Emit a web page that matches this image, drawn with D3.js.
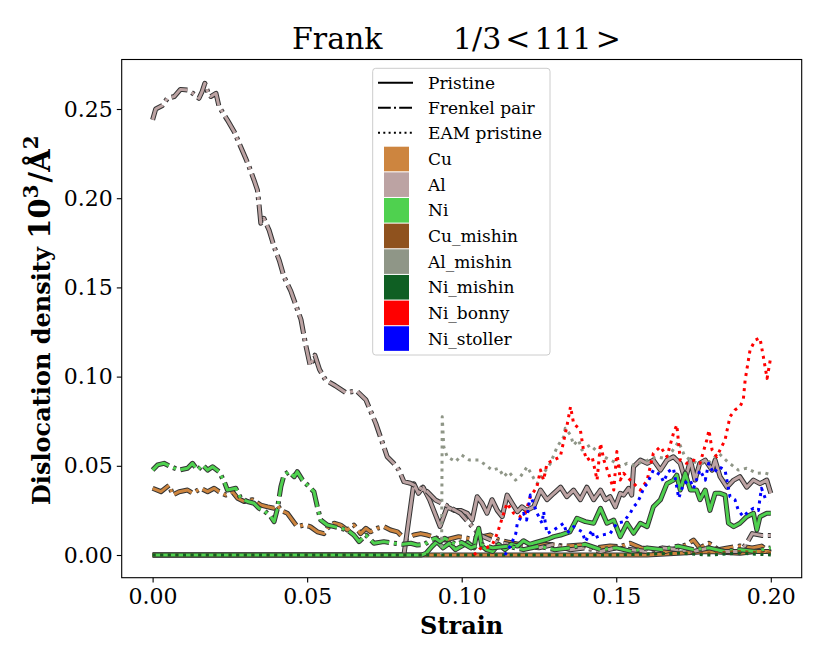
<!DOCTYPE html>
<html><head><meta charset="utf-8">
<script src="https://cdn.jsdelivr.net/npm/d3@7"></script>
<style>body{margin:0;background:#fff}svg{display:block}text{font-family:"DejaVu Serif",serif}</style>
</head><body>
<svg id="chart" width="830" height="664"></svg>
<script>
// ---------- DATA ----------
const xTicks = [0.00, 0.05, 0.10, 0.15, 0.20];
const yTicks = [0.00, 0.05, 0.10, 0.15, 0.20, 0.25];
const titleWord = "Frank";
const titleMath = ["1/3", "<", "111", ">"];

// Cu pristine (solid)
const cuP_x = [0, 0.04, 0.08, 0.12, 0.16, 0.17, 0.18, 0.19, 0.195, 0.2];
const cuP_y = [0, 0, 0, 0, 0, 0.001, 0.002, 0.001, 0.002, 0.002];
// Cu Frenkel pair (dash-dot)
const cuFP_x = [0, 0.0027, 0.0054, 0.0065, 0.0086, 0.0113, 0.013, 0.0156, 0.0178, 0.0199, 0.0215, 0.0237, 0.0258, 0.0275, 0.0296, 0.0323, 0.035, 0.0372, 0.0393, 0.0404, 0.0415, 0.0436, 0.0452, 0.0468, 0.049, 0.051, 0.0533, 0.0554, 0.0565, 0.0587, 0.0608, 0.063, 0.0651, 0.0673, 0.069, 0.0705, 0.0727, 0.0748, 0.077, 0.0792, 0.0808, 0.0824, 0.0845, 0.0867, 0.0889, 0.092, 0.0948, 0.099, 0.103, 0.1093, 0.112, 0.1168, 0.122, 0.128, 0.133, 0.1384, 0.143, 0.148, 0.1513, 0.1545, 0.158, 0.162, 0.166, 0.17, 0.173, 0.175, 0.177, 0.18, 0.183, 0.186, 0.19, 0.194, 0.197, 0.2];
const cuFP_y = [0.0374, 0.0355, 0.0392, 0.0336, 0.0355, 0.0364, 0.0346, 0.0374, 0.0355, 0.0374, 0.0355, 0.0336, 0.0355, 0.0318, 0.030, 0.031, 0.028, 0.027, 0.0262, 0.028, 0.025, 0.0234, 0.0196, 0.0159, 0.0168, 0.0159, 0.013, 0.012, 0.015, 0.0178, 0.0168, 0.014, 0.0168, 0.012, 0.015, 0.013, 0.015, 0.0159, 0.014, 0.013, 0.0103, 0.0094, 0.0112, 0.012, 0.0112, 0.0094, 0.0084, 0.0103, 0.009, 0.0112, 0.0084, 0.0066, 0.005, 0.006, 0.005, 0.0056, 0.004, 0.005, 0.0047, 0.0066, 0.004, 0.003, 0.002, 0.004, 0.006, 0.0084, 0.004, 0.0066, 0.003, 0.004, 0.005, 0.004, 0.005, 0.001];

// Al pristine (solid)
const alP_x = [0, 0.02, 0.04, 0.06, 0.08, 0.0813, 0.0845, 0.086, 0.0875, 0.0896, 0.093, 0.0953, 0.0975, 0.0996, 0.1018, 0.1034, 0.105, 0.1066, 0.1082, 0.1098, 0.1115, 0.1131, 0.1147, 0.1163, 0.118, 0.1195, 0.1211, 0.1233, 0.1255, 0.1276, 0.1298, 0.132, 0.134, 0.1362, 0.1384, 0.1405, 0.1427, 0.1449, 0.1465, 0.148, 0.1497, 0.1513, 0.1524, 0.154, 0.155, 0.1556, 0.1578, 0.16, 0.162, 0.1643, 0.1664, 0.1685, 0.1707, 0.1723, 0.174, 0.1755, 0.177, 0.1788, 0.181, 0.182, 0.1836, 0.1858, 0.188, 0.19, 0.1922, 0.1944, 0.1965, 0.1987, 0.2];
const alP_y = [0, 0, 0, 0, 0, 0, 0.040, 0.0346, 0.038, 0.031, 0.016, 0.027, 0.025, 0.025, 0.0234, 0.0196, 0.0327, 0.029, 0.0234, 0.031, 0.025, 0.0215, 0.0336, 0.029, 0.0243, 0.027, 0.025, 0.027, 0.0364, 0.031, 0.0346, 0.038, 0.0327, 0.0364, 0.031, 0.038, 0.031, 0.0364, 0.031, 0.0327, 0.027, 0.0346, 0.0336, 0.0374, 0.0336, 0.0495, 0.0532, 0.0514, 0.0532, 0.0476, 0.0532, 0.0551, 0.0514, 0.042, 0.0532, 0.042, 0.0514, 0.0532, 0.0476, 0.0532, 0.0439, 0.038, 0.042, 0.0439, 0.038, 0.042, 0.040, 0.042, 0.0346];
// Al Frenkel pair (dash-dot)
const alFP_x = [0, 0.001, 0.0032, 0.0048, 0.007, 0.009, 0.0113, 0.013, 0.015, 0.016, 0.0169, 0.018, 0.0188, 0.0205, 0.0215, 0.0242, 0.0264, 0.028, 0.0301, 0.0312, 0.0328, 0.0339, 0.0344, 0.035, 0.036, 0.0377, 0.0393, 0.041, 0.0425, 0.0447, 0.048, 0.0495, 0.051, 0.0525, 0.054, 0.056, 0.059, 0.0625, 0.066, 0.069, 0.0722, 0.0748, 0.0759, 0.078, 0.0797, 0.0813, 0.0834, 0.0856, 0.0889, 0.0915, 0.0948, 0.0996, 0.1034, 0.106, 0.11, 0.115, 0.12, 0.125, 0.13, 0.135, 0.14, 0.145, 0.15, 0.155, 0.16, 0.165, 0.17, 0.175, 0.18, 0.185, 0.19, 0.192, 0.194, 0.197, 0.2];
const alFP_y = [0.244, 0.250, 0.252, 0.256, 0.257, 0.261, 0.2606, 0.2588, 0.256, 0.2597, 0.2644, 0.2588, 0.257, 0.2588, 0.2513, 0.2438, 0.2373, 0.2308, 0.2224, 0.2177, 0.2102, 0.2046, 0.1971, 0.186, 0.1887, 0.182, 0.1728, 0.165, 0.156, 0.148, 0.132, 0.118, 0.106, 0.112, 0.104, 0.098, 0.095, 0.091, 0.092, 0.087, 0.0738, 0.0607, 0.0551, 0.0514, 0.0476, 0.0411, 0.0402, 0.0383, 0.0355, 0.0308, 0.028, 0.0234, 0.016, 0.011, 0.008, 0.006, 0.005, 0.004, 0.006, 0.003, 0.004, 0.002, 0.004, 0.003, 0.002, 0.004, 0.003, 0.002, 0.004, 0.002, 0.002, 0.006, 0.012, 0.011, 0.011];

// Ni pristine (solid)
const niP_x = [0, 0.02, 0.04, 0.06, 0.08, 0.087, 0.0885, 0.0905, 0.092, 0.094, 0.096, 0.098, 0.1, 0.102, 0.104, 0.1045, 0.1055, 0.1065, 0.108, 0.11, 0.112, 0.114, 0.116, 0.118, 0.12, 0.122, 0.124, 0.126, 0.128, 0.1298, 0.132, 0.135, 0.1373, 0.14, 0.1427, 0.1449, 0.147, 0.1492, 0.1513, 0.1535, 0.1556, 0.1578, 0.16, 0.162, 0.1643, 0.1664, 0.1685, 0.1696, 0.1707, 0.1723, 0.174, 0.176, 0.1771, 0.1788, 0.1803, 0.182, 0.1836, 0.1852, 0.1863, 0.188, 0.19, 0.1922, 0.1944, 0.1955, 0.1965, 0.1987, 0.2];
const niP_y = [0, 0, 0, 0, 0, 0, 0.001, 0.005, 0.0075, 0.004, 0.0066, 0.003, 0.005, 0.007, 0.004, 0.009, 0.015, 0.005, 0.003, 0.002, 0.006, 0.003, 0.006, 0.005, 0.008, 0.006, 0.007, 0.008, 0.009, 0.0103, 0.0112, 0.013, 0.0206, 0.0187, 0.0178, 0.0262, 0.0178, 0.0196, 0.0103, 0.0178, 0.0122, 0.0178, 0.0159, 0.027, 0.031, 0.040, 0.042, 0.0448, 0.0364, 0.0458, 0.0364, 0.0364, 0.031, 0.0364, 0.025, 0.0346, 0.0346, 0.0336, 0.0178, 0.0159, 0.0178, 0.0215, 0.0234, 0.014, 0.0215, 0.0234, 0.0234];
// Ni Frenkel pair (dash-dot)
const niFP_x = [0, 0.0016, 0.0037, 0.0059, 0.0086, 0.0113, 0.0129, 0.0145, 0.0162, 0.0178, 0.0194, 0.0215, 0.0232, 0.0242, 0.0269, 0.0285, 0.0307, 0.0328, 0.0344, 0.036, 0.0382, 0.0393, 0.0404, 0.0415, 0.0425, 0.0441, 0.0458, 0.0468, 0.0485, 0.0506, 0.0522, 0.0533, 0.0544, 0.0565, 0.0587, 0.0608, 0.063, 0.0651, 0.0668, 0.069, 0.0716, 0.0748, 0.078, 0.081, 0.0835, 0.0856, 0.088, 0.09, 0.0915, 0.093, 0.0945, 0.098, 0.1, 0.103, 0.106, 0.11, 0.115, 0.12, 0.125, 0.13, 0.135, 0.14, 0.145, 0.15, 0.155, 0.16, 0.165, 0.17, 0.175, 0.18, 0.185, 0.19, 0.195, 0.2];
const niFP_y = [0.0476, 0.0505, 0.0514, 0.0495, 0.0476, 0.0486, 0.0514, 0.0476, 0.0505, 0.0476, 0.0495, 0.0467, 0.041, 0.0364, 0.0374, 0.0318, 0.030, 0.029, 0.0262, 0.025, 0.0215, 0.0187, 0.0262, 0.0383, 0.0448, 0.0467, 0.0439, 0.0467, 0.042, 0.0383, 0.0355, 0.027, 0.0196, 0.0168, 0.0159, 0.015, 0.014, 0.0112, 0.0075, 0.0112, 0.0066, 0.0075, 0.0066, 0.006, 0.0066, 0.0056, 0.006, 0.0084, 0.0094, 0.0075, 0.0094, 0.006, 0.007, 0.004, 0.006, 0.004, 0.005, 0.003, 0.005, 0.003, 0.004, 0.006, 0.003, 0.004, 0.002, 0.004, 0.003, 0.005, 0.003, 0.004, 0.002, 0.003, 0.002, 0.004];

// EAM pristine (dotted)
const cuM_x = [0, 0.05, 0.1, 0.15, 0.17, 0.18, 0.19, 0.2];
const cuM_y = [0, 0, 0, 0, 0.001, 0.001, 0.002, 0.001];
const alM_x = [0.0935, 0.0937, 0.0942, 0.0953, 0.098, 0.1, 0.1025, 0.1055, 0.1077, 0.1098, 0.112, 0.1136, 0.1152, 0.1174, 0.119, 0.1212, 0.1233, 0.1244, 0.1265, 0.1287, 0.1309, 0.133, 0.1335, 0.1352, 0.1362, 0.1378, 0.1389, 0.1416, 0.1438, 0.146, 0.1492, 0.1513, 0.1535, 0.156, 0.158, 0.16, 0.163, 0.166, 0.168, 0.1702, 0.172, 0.1739, 0.177, 0.1803, 0.182, 0.1832, 0.186, 0.1895, 0.1922, 0.1955, 0.198, 0.2];
const alM_y = [0, 0.0775, 0.0607, 0.0551, 0.0523, 0.056, 0.0532, 0.0532, 0.0505, 0.0476, 0.0486, 0.0439, 0.0467, 0.042, 0.0439, 0.0495, 0.043, 0.040, 0.0458, 0.0514, 0.0607, 0.0663, 0.071, 0.0673, 0.0617, 0.0645, 0.0589, 0.0617, 0.058, 0.0551, 0.0523, 0.0495, 0.0514, 0.050, 0.052, 0.053, 0.0551, 0.054, 0.058, 0.0635, 0.056, 0.0532, 0.051, 0.0523, 0.055, 0.057, 0.0523, 0.0476, 0.0486, 0.0458, 0.046, 0.045];
const niM_x = [0, 0.05, 0.1, 0.15, 0.17, 0.18, 0.19, 0.2];
const niM_y = [0, 0, 0, 0, 0.001, 0, 0.001, 0];
const niB_x = [0.104, 0.106, 0.108, 0.11, 0.1115, 0.1136, 0.1147, 0.1168, 0.119, 0.1206, 0.1222, 0.1243, 0.1255, 0.1265, 0.1276, 0.1298, 0.1319, 0.134, 0.1352, 0.1362, 0.1384, 0.1394, 0.1405, 0.1422, 0.1438, 0.1449, 0.146, 0.1475, 0.1492, 0.1502, 0.1513, 0.1524, 0.1545, 0.1578, 0.16, 0.162, 0.1643, 0.1664, 0.1685, 0.1696, 0.1707, 0.1727, 0.175, 0.1771, 0.1793, 0.18, 0.181, 0.1825, 0.1852, 0.1868, 0.1884, 0.19, 0.1911, 0.1917, 0.1933, 0.195, 0.1965, 0.1975, 0.1988, 0.1998];
const niB_y = [0, 0.0037, 0.004, 0.006, 0.012, 0.0234, 0.029, 0.0234, 0.0215, 0.0234, 0.0327, 0.038, 0.0476, 0.042, 0.0514, 0.0532, 0.0551, 0.0719, 0.0831, 0.0738, 0.070, 0.0589, 0.0532, 0.0551, 0.042, 0.0626, 0.0532, 0.0458, 0.0364, 0.058, 0.042, 0.0458, 0.042, 0.0364, 0.042, 0.057, 0.0607, 0.0551, 0.0682, 0.0729, 0.0532, 0.0514, 0.0532, 0.0514, 0.0645, 0.070, 0.0589, 0.0551, 0.0645, 0.0775, 0.0813, 0.0831, 0.0869, 0.098, 0.115, 0.1205, 0.1216, 0.112, 0.099, 0.109];
const niS_x = [0.114, 0.116, 0.1175, 0.118, 0.12, 0.121, 0.1222, 0.1244, 0.126, 0.1265, 0.1276, 0.1298, 0.133, 0.134, 0.1362, 0.139, 0.14, 0.1422, 0.1427, 0.1454, 0.148, 0.1502, 0.1524, 0.1545, 0.1556, 0.1567, 0.1578, 0.159, 0.16, 0.162, 0.1643, 0.1653, 0.1668, 0.1685, 0.1696, 0.1702, 0.1718, 0.1739, 0.175, 0.1771, 0.1788, 0.1799, 0.1815, 0.1832, 0.1852, 0.1868, 0.1884, 0.1895, 0.1911, 0.1927, 0.1944, 0.196, 0.1965, 0.197, 0.1982, 0.1992];
const niS_y = [0, 0.006, 0.012, 0.0178, 0.0234, 0.0196, 0.0336, 0.0234, 0.0178, 0.0243, 0.012, 0.014, 0.0178, 0.012, 0.0159, 0.013, 0.0075, 0.014, 0.0094, 0.0112, 0.012, 0.0178, 0.0187, 0.0234, 0.027, 0.029, 0.0327, 0.038, 0.040, 0.0476, 0.0448, 0.041, 0.0467, 0.0486, 0.038, 0.0318, 0.040, 0.042, 0.0374, 0.0476, 0.042, 0.0514, 0.0458, 0.0495, 0.0476, 0.0327, 0.031, 0.025, 0.0215, 0.0243, 0.0262, 0.025, 0.0318, 0.0374, 0.0318, 0.030];

// legend
const styleNames = ["Pristine", "Frenkel pair", "EAM pristine"];
const styleKeys = ["solid", "dashdot", "dotted"];
const elementNames = ["Cu", "Al", "Ni", "Cu_mishin", "Al_mishin", "Ni_mishin", "Ni_bonny", "Ni_stoller"];
const elementColors = ["#cd853f", "#bca3a3", "#4fd14f", "#8f521e", "#8f9687", "#0f5f23", "#ff0000", "#0000ff"];

// ---------- CHART ----------
const svg = d3.select("#chart");
const L = 121.7, R = 801.7, T = 59.5, B = 577.7;
const x = d3.scaleLinear().domain([-0.01, 0.21]).range([L, R]);
const y = d3.scaleLinear().domain([-0.01272, 0.27775]).range([B, T]);
const col = Object.fromEntries(elementNames.map((n, i) => [n, elementColors[i]]));

svg.append("defs").append("clipPath").attr("id", "clip")
  .append("rect").attr("x", L).attr("y", T).attr("width", R - L).attr("height", B - T);

const plot = svg.append("g").attr("clip-path", "url(#clip)");
const line = d3.line().x(d => x(d[0])).y(d => y(d[1]));
const dashes = { solid: null, dashdot: "19.2,4.8,3,4.8", dotted: "3,4.6" };

function draw(xs, ys, color, style) {
  const pts = xs.map((v, i) => [v, ys[i]]);
  if (style !== "dotted") {
    plot.append("path").attr("d", line(pts)).attr("fill", "none")
      .attr("stroke", "#333").attr("stroke-width", 5)
      .attr("stroke-dasharray", dashes[style]).attr("stroke-linejoin", "round");
  }
  plot.append("path").attr("d", line(pts)).attr("fill", "none")
    .attr("stroke", color).attr("stroke-width", 3)
    .attr("stroke-dasharray", dashes[style]).attr("stroke-linejoin", "round");
}

draw(cuP_x, cuP_y, col.Cu, "solid");
draw(cuFP_x, cuFP_y, col.Cu, "dashdot");
draw(alP_x, alP_y, col.Al, "solid");
draw(alFP_x, alFP_y, col.Al, "dashdot");
draw(niP_x, niP_y, col.Ni, "solid");
draw(niFP_x, niFP_y, col.Ni, "dashdot");
draw(cuM_x, cuM_y, col.Cu_mishin, "dotted");
draw(alM_x, alM_y, col.Al_mishin, "dotted");
draw(niM_x, niM_y, col.Ni_mishin, "dotted");
draw(niB_x, niB_y, col.Ni_bonny, "dotted");
draw(niS_x, niS_y, col.Ni_stoller, "dotted");

// axes
const xAxis = d3.axisBottom(x).tickValues(xTicks).tickFormat(d3.format(".2f")).tickSize(4.9).tickPadding(4);
const yAxis = d3.axisLeft(y).tickValues(yTicks).tickFormat(d3.format(".2f")).tickSize(4.9).tickPadding(4);
const gx = svg.append("g").attr("transform", `translate(0,${B})`).call(xAxis);
const gy = svg.append("g").attr("transform", `translate(${L},0)`).call(yAxis);
[gx, gy].forEach(g => {
  g.select(".domain").remove();
  g.selectAll("line").attr("stroke", "#000").attr("stroke-width", 1.1);
  g.selectAll("text").attr("font-family", "DejaVu Serif").attr("font-size", 22).attr("fill", "#000");
});
gx.selectAll("text").attr("dy", "0.78em");
svg.append("rect").attr("x", L).attr("y", T).attr("width", R - L).attr("height", B - T)
  .attr("fill", "none").attr("stroke", "#000").attr("stroke-width", 1.1);

// labels
svg.append("text").attr("x", (L + R) / 2).attr("y", 634).attr("text-anchor", "middle")
  .attr("font-size", 24).attr("font-weight", "bold").text("Strain");
const yl = svg.append("text").attr("transform", "translate(50,505) rotate(-90)")
  .attr("text-anchor", "start").attr("font-size", 24).attr("font-weight", "bold");
yl.append("tspan").text("Dislocation density ");
yl.append("tspan").attr("font-size", 29).text("10");
yl.append("tspan").attr("font-size", 20).attr("dy", -12).text("3");
yl.append("tspan").attr("font-size", 29).attr("dy", 12).attr("dx", 2).text("/Å");
yl.append("tspan").attr("font-size", 20).attr("dy", -12).text("2");

// title: plain word + math part with relation spacing
const tt = svg.append("text").attr("x", 292).attr("y", 49).attr("font-size", 30);
tt.append("tspan").text(titleWord);
tt.append("tspan").attr("x", 453).text(titleMath[0]);
tt.append("tspan").attr("dx", 4).text(titleMath[1]);
tt.append("tspan").attr("dx", 4).text(titleMath[2]);
tt.append("tspan").attr("dx", 4).text(titleMath[3]);

// legend
const lg = svg.append("g");
lg.append("rect").attr("x", 372.7).attr("y", 68.3).attr("width", 177.3).attr("height", 286.7)
  .attr("rx", 3).attr("fill", "#fff").attr("fill-opacity", 0.8).attr("stroke", "#ccc").attr("stroke-width", 1);
styleNames.forEach((n, i) => {
  const cy = 82.7 + i * 25;
  lg.append("line").attr("x1", 378).attr("x2", 413).attr("y1", cy).attr("y2", cy)
    .attr("stroke", "#000").attr("stroke-width", 2)
    .attr("stroke-dasharray", styleKeys[i] === "dashdot" ? "12.8,3.2,2,3.2" : styleKeys[i] === "dotted" ? "2,3.3" : null);
  lg.append("text").attr("x", 428).attr("y", cy).attr("dy", "0.36em").attr("font-size", 17).text(n);
});
elementNames.forEach((n, i) => {
  const cy = 159 + i * 25.65;
  lg.append("rect").attr("x", 384).attr("y", cy - 12.3).attr("width", 25).attr("height", 24.6)
    .attr("fill", elementColors[i]);
  lg.append("text").attr("x", 428).attr("y", cy).attr("dy", "0.36em").attr("font-size", 17).text(n);
});
</script>
</body></html>
